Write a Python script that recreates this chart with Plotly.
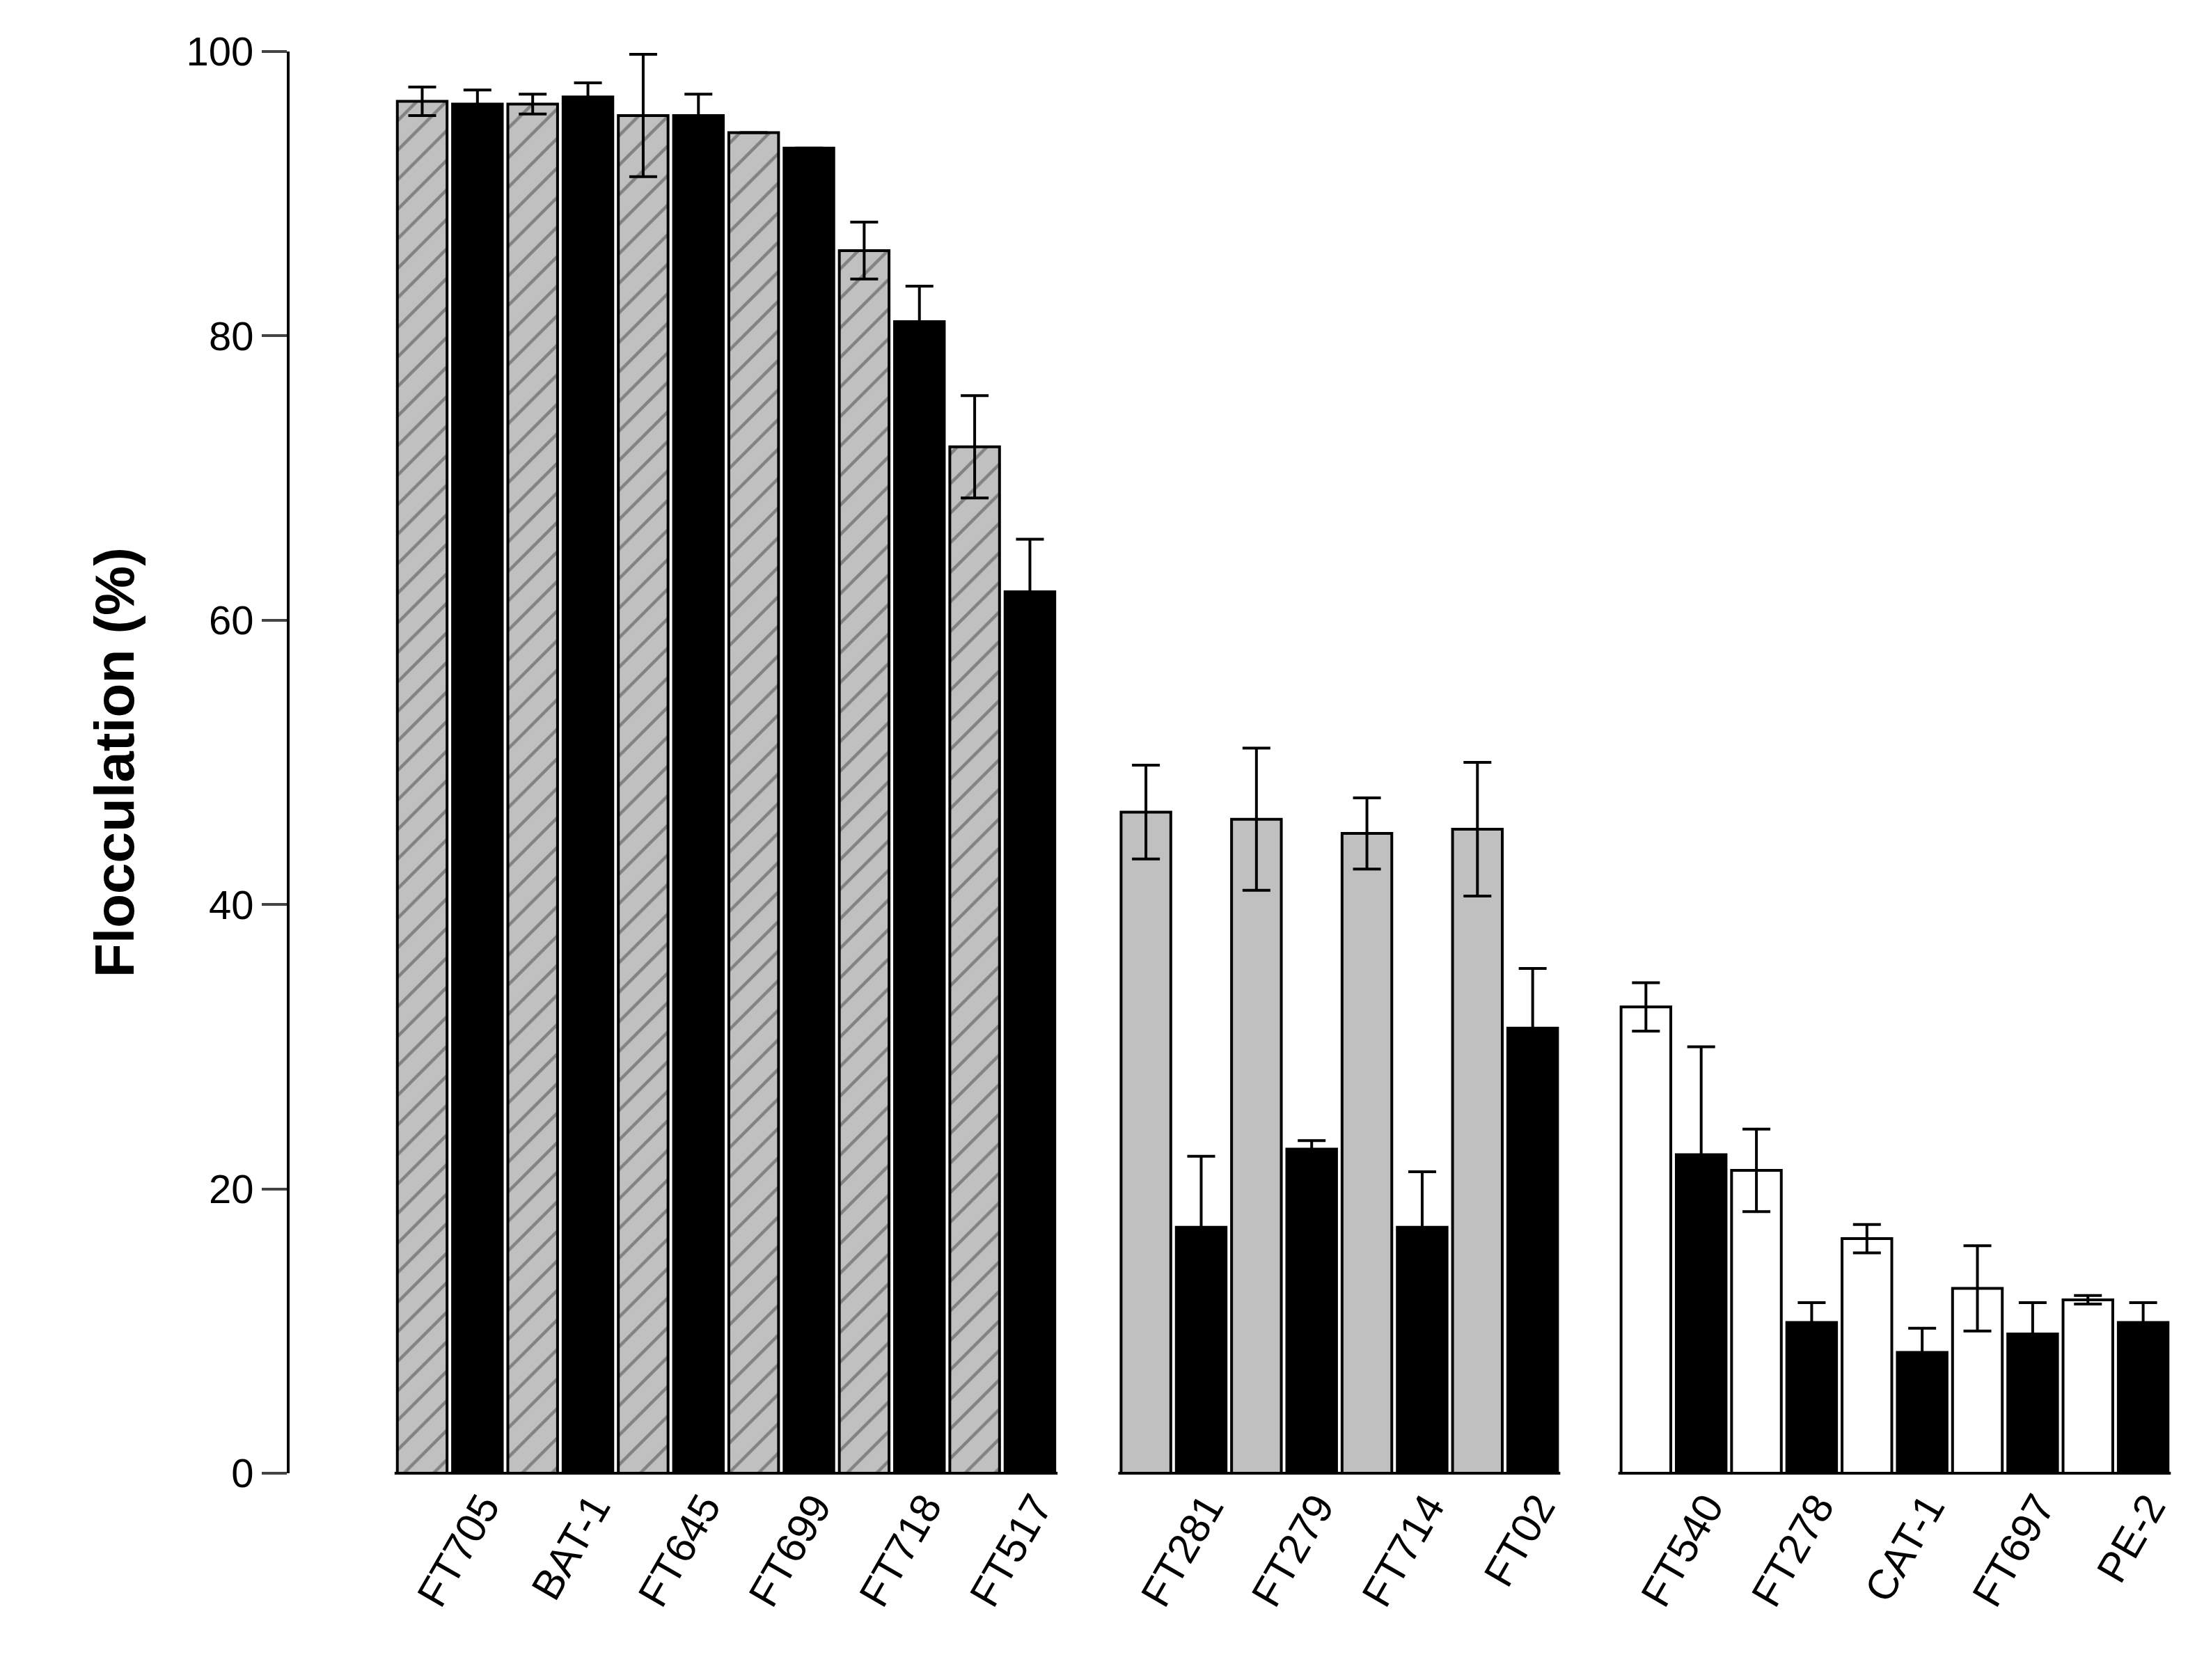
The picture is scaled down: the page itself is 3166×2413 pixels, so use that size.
import plotly.graph_objects as go

labels = ["FT705","BAT-1","FT645","FT699","FT718","FT517",
          "FT281","FT279","FT714","FT02",
          "FT540","FT278","CAT-1","FT697","PE-2"]
groups = [0]*6 + [1]*4 + [2]*5
light_vals = [96.5,96.3,95.5,94.3,86.0,72.2, 46.5,46.0,45.0,45.3, 32.8,21.3,16.5,13.0,12.2]
light_err  = [1.0,0.7,4.3,0.0,2.0,3.6, 3.3,5.0,2.5,4.7, 1.7,2.9,1.0,3.0,0.3]
black_vals = [96.3,96.8,95.5,93.2,81.0,62.0, 17.3,22.8,17.3,31.3, 22.4,10.6,8.5,9.8,10.6]
black_err  = [1.0,1.0,1.5,0.0,2.5,3.7, 5.0,0.6,3.9,4.2, 7.6,1.4,1.7,2.2,1.4]

group_start = [0.0, 13.1, 22.15]
counts = [0,0,0]
xl, xb = [], []
for g in groups:
    base = group_start[g] + counts[g]*2
    xl.append(base + 0.5); xb.append(base + 1.5)
    counts[g] += 1

light_colors = ["#c0c0c0" if g < 2 else "white" for g in groups]
light_shapes = ["/" if g == 0 else "" for g in groups]

fig = go.Figure()
err_style = dict(type="data", symmetric=True, color="black", thickness=4, width=20)
fig.add_trace(go.Bar(x=xl, y=light_vals, width=0.9,
    marker=dict(color=light_colors, line=dict(color="black", width=4),
                pattern=dict(shape=light_shapes, fgcolor="black", bgcolor=light_colors, size=30, solidity=0.15)),
    error_y=dict(array=light_err, **err_style)))
fig.add_trace(go.Bar(x=xb, y=black_vals, width=0.9,
    marker=dict(color="black", line=dict(color="black", width=4)),
    error_y=dict(array=black_err, **err_style)))

for g, n in zip(group_start, [6,4,5]):
    fig.add_shape(type="line", xref="x", yref="paper", x0=g, x1=g+2*n, y0=0, y1=0,
                  line=dict(color="black", width=4))

font = "Liberation Sans, Arial"
fig.update_layout(
    width=3166, height=2413, barmode="overlay", showlegend=False,
    plot_bgcolor="white", paper_bgcolor="white",
    margin=dict(l=408, r=20, t=66, b=305),
    font=dict(family=font, color="black", size=60),
    xaxis=dict(range=[-1.9, 32.6], tickvals=[x + 0.1 for x in xb], ticktext=labels,
               tickangle=-60, ticks="", showline=False, showgrid=False, zeroline=False,
               tickfont=dict(size=60)),
    yaxis=dict(range=[0, 100], tickvals=[0,20,40,60,80,100], ticks="outside", ticklen=36,
               tickwidth=4, showline=True, linewidth=4, linecolor="black", showgrid=False,
               zeroline=False, tickfont=dict(size=58),
               title=dict(text="<b>Flocculation (%)</b>", font=dict(size=80), standoff=50)),
)
fig.write_html("out.html")
